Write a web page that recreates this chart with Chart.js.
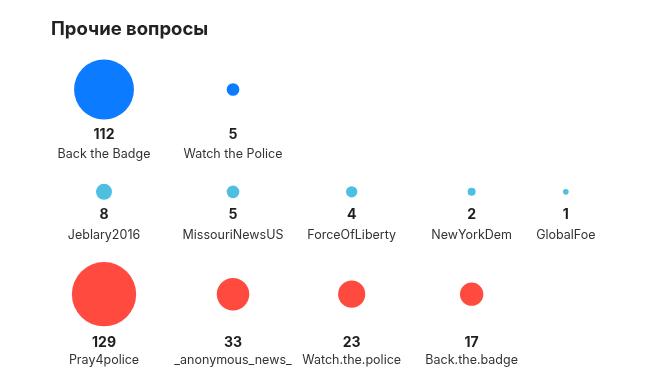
<!DOCTYPE html>
<html>
<head>
<meta charset="utf-8">
<script src="https://cdn.jsdelivr.net/npm/chart.js@4.4.1/dist/chart.umd.min.js"></script>
<style>
  html, body { margin: 0; padding: 0; background: #fff; }
  #wrap { width: 671px; height: 387px; }
</style>
</head>
<body>
<div id="wrap"><canvas id="bubbles" width="671" height="387"></canvas></div>
<script>
// Data: one row per group of accounts
const row1Labels = ["Back the Badge", "Watch the Police"];
const row1Values = [112, 5];

const row2Labels = ["Jeblary2016", "MissouriNewsUS", "ForceOfLiberty", "NewYorkDem", "GlobalFoe"];
const row2Values = [8, 5, 4, 2, 1];

const row3Labels = ["Pray4police", "_anonymous_news_", "Watch.the.police", "Back.the.badge"];
const row3Values = [129, 33, 23, 17];

// Layout: horizontal slot of each column (in column units)
const colPos = [0, 1, 1.92, 2.85, 3.58];
const rowColors = ["#0b7bff", "#4dbfe0", "#ff4a3f"];

// bubble area proportional to value
const radiusFor = (v) => 2.83 * Math.sqrt(v);

function buildRow(labels, values, rowIndex) {
  return {
    label: "row" + rowIndex,
    data: values.map((v, i) => ({ x: colPos[i], y: rowIndex, r: radiusFor(v), v: v, name: labels[i] })),
    backgroundColor: rowColors[rowIndex],
    borderWidth: 0,
    hoverBorderWidth: 0,
  };
}

// Draws the value and the account name under each bubble
const bubbleLabels = {
  id: "bubbleLabels",
  afterDatasetsDraw(chart) {
    const ctx = chart.ctx;
    ctx.save();
    ctx.textAlign = "center";
    ctx.textBaseline = "middle";
    chart.data.datasets.forEach((ds, di) => {
      const meta = chart.getDatasetMeta(di);
      const maxR = Math.max(...ds.data.map((d) => d.r));
      const labelGap = di === 2 ? 18 : 20;
      meta.data.forEach((el, i) => {
        const d = ds.data[i];
        const yNum = el.y + maxR + (di === 2 ? 16 : 15);
        ctx.fillStyle = "#1e1e1e";
        ctx.font = "bold 14px Inter, 'Noto Sans', sans-serif";
        ctx.fillText(String(d.v), el.x, yNum);
        ctx.fillStyle = "#333";
        ctx.font = "12.5px Inter, 'Noto Sans', sans-serif";
        ctx.fillText(d.name, el.x, yNum + labelGap);
      });
    });
    ctx.restore();
  },
};

const chart = new Chart(document.getElementById("bubbles").getContext("2d"), {
  type: "bubble",
  data: {
    datasets: [
      buildRow(row1Labels, row1Values, 0),
      buildRow(row2Labels, row2Values, 1),
      buildRow(row3Labels, row3Values, 2),
    ],
  },
  options: {
    responsive: false,
    animation: false,
    layout: { autoPadding: false, padding: { left: 51, right: 51, top: 18, bottom: 0 } },
    scales: {
      x: { type: "linear", min: -0.411, max: 4.0, display: false },
      y: { type: "linear", min: -0.482, max: 2.907, reverse: true, display: false },
    },
    plugins: {
      legend: { display: false },
      tooltip: { enabled: false },
      title: {
        display: true,
        text: "Прочие вопросы",
        align: "start",
        color: "#222",
        font: { family: "Inter, 'Noto Sans', sans-serif", size: 18.5, weight: "bold" },
        padding: { top: 0, bottom: 0 },
      },
    },
  },
  plugins: [bubbleLabels],
});
</script>
</body>
</html>
